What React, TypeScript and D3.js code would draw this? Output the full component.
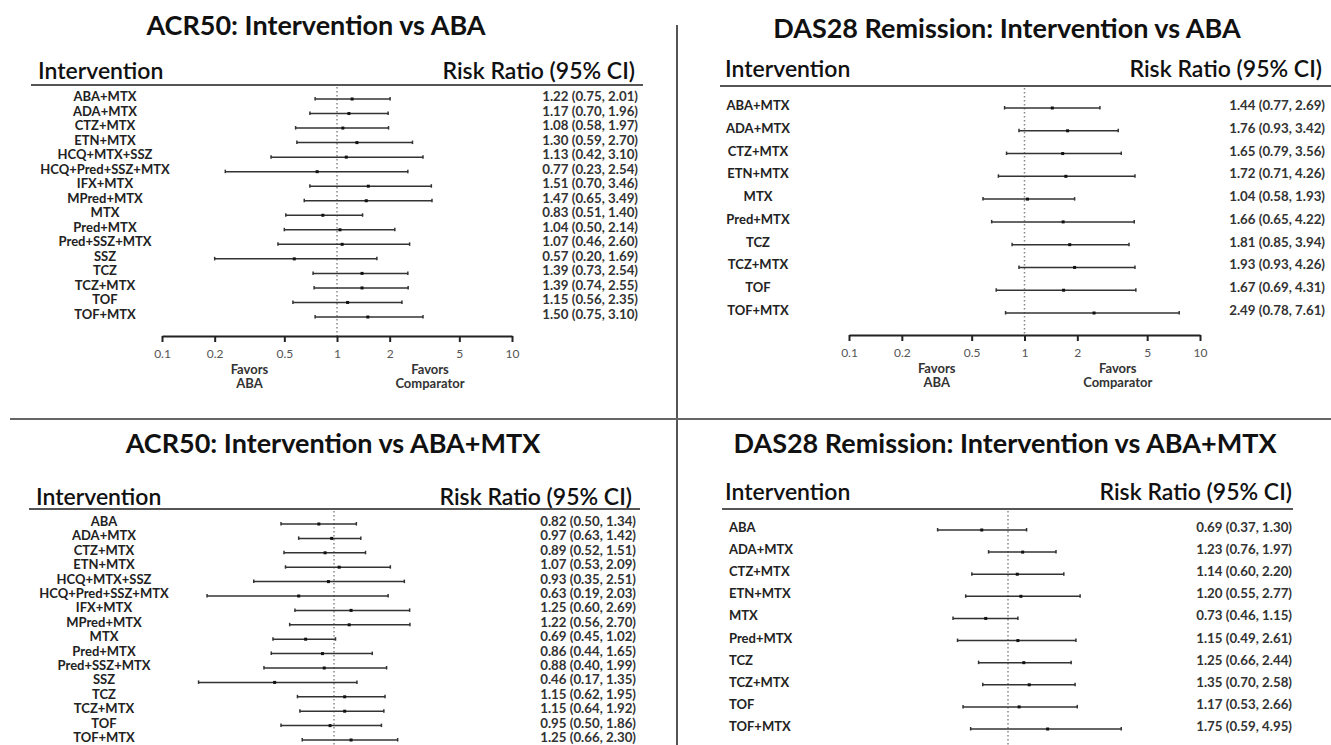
import React, { useEffect, useRef } from 'react';
import * as d3 from 'd3';

// ---- data ----
const acrLabels = [
  'ABA+MTX', 'ADA+MTX', 'CTZ+MTX', 'ETN+MTX', 'HCQ+MTX+SSZ', 'HCQ+Pred+SSZ+MTX', 'IFX+MTX', 'MPred+MTX',
  'MTX', 'Pred+MTX', 'Pred+SSZ+MTX', 'SSZ', 'TCZ', 'TCZ+MTX', 'TOF', 'TOF+MTX',
];
const acrVsAbaRR = [1.22, 1.17, 1.08, 1.30, 1.13, 0.77, 1.51, 1.47, 0.83, 1.04, 1.07, 0.57, 1.39, 1.39, 1.15, 1.50];
const acrVsAbaLo = [0.75, 0.70, 0.58, 0.59, 0.42, 0.23, 0.70, 0.65, 0.51, 0.50, 0.46, 0.20, 0.73, 0.74, 0.56, 0.75];
const acrVsAbaHi = [2.01, 1.96, 1.97, 2.70, 3.10, 2.54, 3.46, 3.49, 1.40, 2.14, 2.60, 1.69, 2.54, 2.55, 2.35, 3.10];

const dasLabels = ['ABA+MTX', 'ADA+MTX', 'CTZ+MTX', 'ETN+MTX', 'MTX', 'Pred+MTX', 'TCZ', 'TCZ+MTX', 'TOF', 'TOF+MTX'];
const dasVsAbaRR = [1.44, 1.76, 1.65, 1.72, 1.04, 1.66, 1.81, 1.93, 1.67, 2.49];
const dasVsAbaLo = [0.77, 0.93, 0.79, 0.71, 0.58, 0.65, 0.85, 0.93, 0.69, 0.78];
const dasVsAbaHi = [2.69, 3.42, 3.56, 4.26, 1.93, 4.22, 3.94, 4.26, 4.31, 7.61];

const acrMtxLabels = [
  'ABA', 'ADA+MTX', 'CTZ+MTX', 'ETN+MTX', 'HCQ+MTX+SSZ', 'HCQ+Pred+SSZ+MTX', 'IFX+MTX', 'MPred+MTX',
  'MTX', 'Pred+MTX', 'Pred+SSZ+MTX', 'SSZ', 'TCZ', 'TCZ+MTX', 'TOF', 'TOF+MTX',
];
const acrVsMtxRR = [0.82, 0.97, 0.89, 1.07, 0.93, 0.63, 1.25, 1.22, 0.69, 0.86, 0.88, 0.46, 1.15, 1.15, 0.95, 1.25];
const acrVsMtxLo = [0.50, 0.63, 0.52, 0.53, 0.35, 0.19, 0.60, 0.56, 0.45, 0.44, 0.40, 0.17, 0.62, 0.64, 0.50, 0.66];
const acrVsMtxHi = [1.34, 1.42, 1.51, 2.09, 2.51, 2.03, 2.69, 2.70, 1.02, 1.65, 1.99, 1.35, 1.95, 1.92, 1.86, 2.30];

const dasMtxLabels = ['ABA', 'ADA+MTX', 'CTZ+MTX', 'ETN+MTX', 'MTX', 'Pred+MTX', 'TCZ', 'TCZ+MTX', 'TOF', 'TOF+MTX'];
const dasVsMtxRR = [0.69, 1.23, 1.14, 1.20, 0.73, 1.15, 1.25, 1.35, 1.17, 1.75];
const dasVsMtxLo = [0.37, 0.76, 0.60, 0.55, 0.46, 0.49, 0.66, 0.70, 0.53, 0.59];
const dasVsMtxHi = [1.30, 1.97, 2.20, 2.77, 1.15, 2.61, 2.44, 2.58, 2.66, 4.95];

const tickValues = [0.1, 0.2, 0.5, 1, 2, 5, 10];

const FONT = 'Lato, "DejaVu Sans", sans-serif';
const fmt = d3.format('.2f');

// bottom panels are cropped in the source image: their axes fall below the page
const panels = [
  {
    title: 'ACR50: Intervention vs ABA', titleX: 316, titleY: 35,
    labels: acrLabels, rr: acrVsAbaRR, lo: acrVsAbaLo, hi: acrVsAbaHi,
    headX: 38, headY: 79, rrHeadX: 635, lineY: 85, lineX0: 31, lineX1: 643,
    rowTop: 97, rowBottom: 315, labelX: 105, labelAnchor: 'middle', valueX: 638,
    range: [162, 512], axisY: 336, showAxis: true,
  },
  {
    title: 'DAS28 Remission: Intervention vs ABA', titleX: 1007, titleY: 38,
    labels: dasLabels, rr: dasVsAbaRR, lo: dasVsAbaLo, hi: dasVsAbaHi,
    headX: 725, headY: 77, rrHeadX: 1322, lineY: 86, lineX0: 720, lineX1: 1331,
    rowTop: 106, rowBottom: 311, labelX: 758, labelAnchor: 'middle', valueX: 1325,
    range: [849, 1200], axisY: 335, showAxis: true,
  },
  {
    title: 'ACR50: Intervention vs ABA+MTX', titleX: 333, titleY: 453,
    labels: acrMtxLabels, rr: acrVsMtxRR, lo: acrVsMtxLo, hi: acrVsMtxHi,
    headX: 36, headY: 505, rrHeadX: 632, lineY: 509, lineX0: 29, lineX1: 640,
    rowTop: 522, rowBottom: 738, labelX: 104, labelAnchor: 'middle', valueX: 636,
    range: [158, 510], axisY: 745, showAxis: false,
  },
  {
    title: 'DAS28 Remission: Intervention vs ABA+MTX', titleX: 1005, titleY: 453,
    labels: dasMtxLabels, rr: dasVsMtxRR, lo: dasVsMtxLo, hi: dasVsMtxHi,
    headX: 725, headY: 500, rrHeadX: 1292, lineY: 509, lineX0: 722, lineX1: 1293,
    rowTop: 528, rowBottom: 727, labelX: 729, labelAnchor: 'start', valueX: 1292,
    range: [845, 1171], axisY: 745, showAxis: false,
  },
];

const ForestPanel = ({ p }: { p: any }) => {
  const axisRef = useRef<SVGGElement>(null);
  const x = d3.scaleLog().domain([0.1, 10]).range(p.range);
  const y = d3.scaleLinear().domain([0, p.labels.length - 1]).range([p.rowTop, p.rowBottom]);

  useEffect(() => {
    if (!p.showAxis) return;
    const g = d3.select(axisRef.current);
    g.selectAll('*').remove();
    g.call(
      d3.axisBottom(x)
        .tickValues(tickValues)
        .tickFormat((d: any) => String(d))
        .tickSize(6)
        .tickSizeOuter(0)
        .tickPadding(7) as any
    );
    g.select('.domain').attr('stroke', '#222').attr('stroke-width', 2);
    g.selectAll('.tick line').attr('stroke', '#222').attr('stroke-width', 2);
    g.selectAll('.tick text')
      .attr('fill', '#555')
      .style('font-family', FONT)
      .style('font-size', '12px');
  }, [p]);

  return (
    <g>
      <text x={p.titleX} y={p.titleY} textAnchor="middle" fontFamily={FONT} fontWeight={700}
        fontSize={27} fill="#111">{p.title}</text>
      <text x={p.headX} y={p.headY} fontFamily={FONT} fontWeight={600} fontSize={23} fill="#111">Intervention</text>
      <text x={p.rrHeadX} y={p.headY} textAnchor="end" fontFamily={FONT} fontWeight={600} fontSize={23}
        fill="#111">Risk Ratio (95% CI)</text>
      <line x1={p.lineX0} x2={p.lineX1} y1={p.lineY} y2={p.lineY} stroke="#555" strokeWidth={2} />
      <line x1={x(1)} x2={x(1)} y1={p.lineY + 2} y2={p.axisY} stroke="#888" strokeWidth={1.5}
        strokeDasharray="1.5,2.5" />
      {p.labels.map((lab: string, i: number) => {
        const yy = y(i);
        const x0 = x(p.lo[i]);
        const x1 = x(p.hi[i]);
        const xm = x(p.rr[i]);
        return (
          <g key={lab + i}>
            <text x={p.labelX} y={yy + 4} textAnchor={p.labelAnchor} fontFamily={FONT} fontWeight={700}
              fontSize={13} fill="#222">{lab}</text>
            <line x1={x0} x2={x1} y1={yy + 2} y2={yy + 2} stroke="#333" strokeWidth={1.5} />
            <line x1={x0} x2={x0} y1={yy} y2={yy + 3.5} stroke="#333" strokeWidth={1.5} />
            <line x1={x1} x2={x1} y1={yy} y2={yy + 3.5} stroke="#333" strokeWidth={1.5} />
            <rect x={xm - 1.5} y={yy + 0.5} width={3} height={3} fill="#111" />
            <text x={p.valueX} y={yy + 4} textAnchor="end" fontFamily={FONT} fontWeight={700}
              fontSize={13.3} fill="#333">
              {`${fmt(p.rr[i])} (${fmt(p.lo[i])}, ${fmt(p.hi[i])})`}
            </text>
          </g>
        );
      })}
      {p.showAxis && (
        <>
          <g ref={axisRef} transform={`translate(0,${p.axisY})`} />
          <g fontFamily={FONT} fontWeight={700} fontSize={13} fill="#333" textAnchor="middle">
            <text x={x(0.316)} y={p.axisY + 38}>Favors</text>
            <text x={x(0.316)} y={p.axisY + 52}>ABA</text>
            <text x={x(3.4)} y={p.axisY + 38}>Favors</text>
            <text x={x(3.4)} y={p.axisY + 52}>Comparator</text>
          </g>
        </>
      )}
    </g>
  );
};

export default function App() {
  return (
    <svg width={1331} height={745} style={{ position: 'absolute', left: 0, top: 0, background: '#fff' }}>
      <rect width={1331} height={745} fill="#fff" />
      <line x1={677} x2={677} y1={25} y2={745} stroke="#555" strokeWidth={2} />
      <line x1={10} x2={1331} y1={419} y2={419} stroke="#666" strokeWidth={2} />
      {panels.map((p, i) => (
        <ForestPanel key={i} p={p} />
      ))}
    </svg>
  );
}
